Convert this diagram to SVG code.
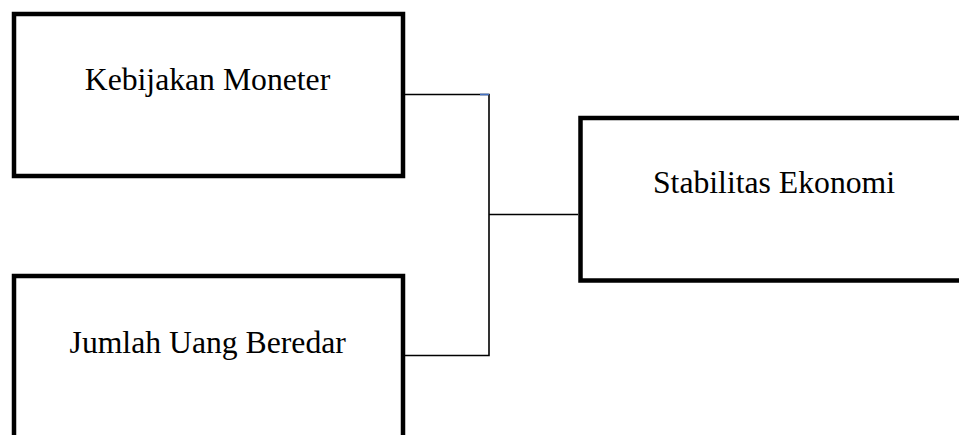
<svg xmlns="http://www.w3.org/2000/svg" width="959" height="435" viewBox="0 0 959 435">
<style>
.box{fill:#fff;stroke:#000;stroke-width:4.5}
.lbl{font-family:"Liberation Serif","Times New Roman",serif;font-size:31.7px;fill:#000}
.conn{fill:none;stroke:#000;stroke-width:1.6}
</style>
<rect x="0" y="0" width="959" height="435" fill="#fff"/>
<g id="node-kebijakan">
<rect class="box" x="14" y="14" width="389" height="162"/>
<text class="lbl" x="207.5" y="90" text-anchor="middle">Kebijakan Moneter</text>
</g>
<g id="node-jumlah">
<rect class="box" x="14" y="276" width="389" height="175"/>
<text class="lbl" x="207.7" y="353" text-anchor="middle">Jumlah Uang Beredar</text>
</g>
<g id="node-stabilitas">
<rect class="box" x="580.5" y="118" width="400" height="162.5"/>
<text class="lbl" x="774" y="193" text-anchor="middle">Stabilitas Ekonomi</text>
</g>
<g id="connectors">
<polyline class="conn" points="405,94.5 489,94.5 489,355.5 405,355.5"/>
<line class="conn" x1="489" y1="214.5" x2="578" y2="214.5"/>
<line x1="480" y1="94.5" x2="489" y2="94.5" stroke="#4472C4" stroke-width="1.6"/>
</g>
</svg>
